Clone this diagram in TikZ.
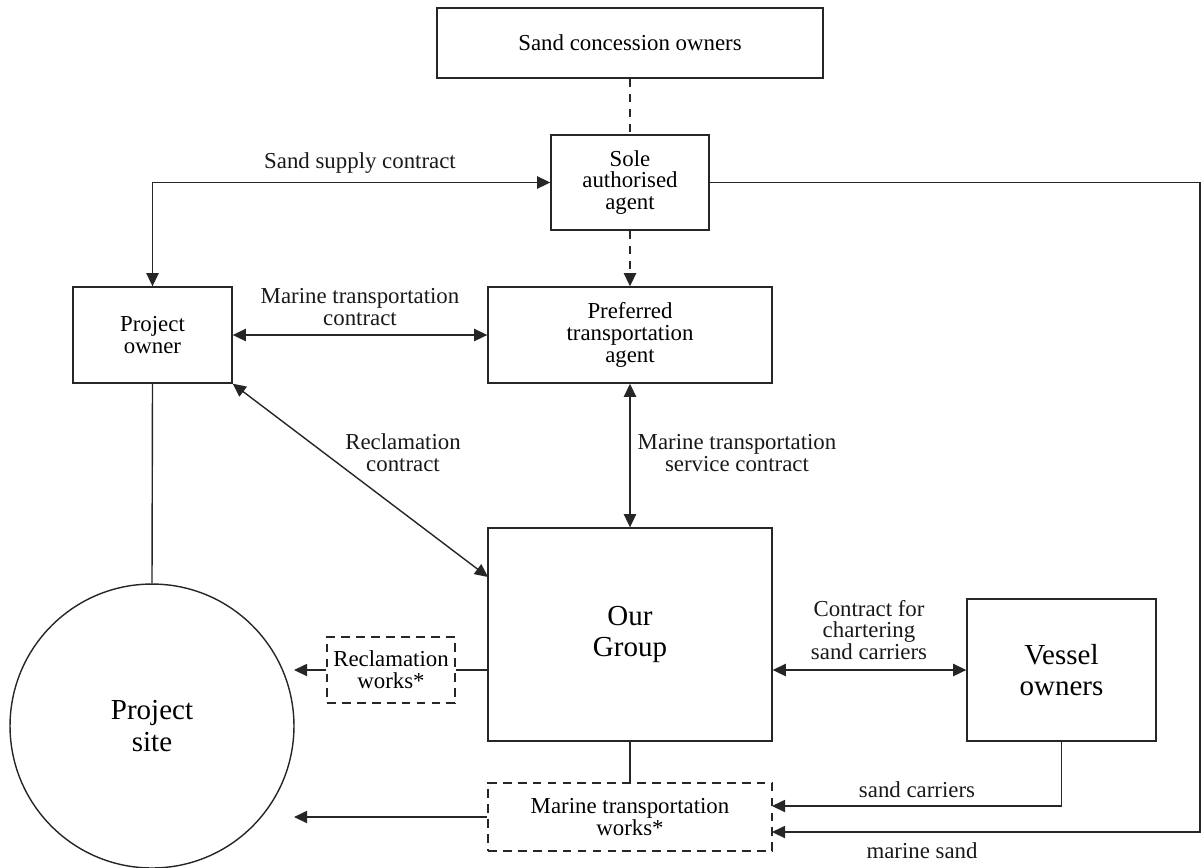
\documentclass[tikz,border=0pt]{standalone}
\usepackage{fontspec}
\setmainfont{Liberation Serif}
\usetikzlibrary{arrows.meta,positioning}
\newcommand\txtnormal{\fontsize{13}{12.4}\selectfont}
\newcommand\txtbig{\fontsize{16.5}{18}\selectfont}
\tikzset
{
  box/.style={draw=black!85,line width=0.8pt,inner sep=0pt,align=center,font=\txtnormal},
  dashbox/.style={box,dash pattern=on 5pt off 3.5pt},
  label/.style={inner sep=0pt,align=center,font=\txtnormal,text=black!90},
  link/.style={draw=black!85,line width=0.8pt},
  arrow/.style={link,-{Triangle[length=7.5pt,width=7pt]}},
  twoway/.style={link,{Triangle[length=7.5pt,width=7pt]}-{Triangle[length=7.5pt,width=7pt]}}
}
\begin{document}
\begin{tikzpicture}[x=0.02cm,y=-0.02cm]
        \useasboundingbox (0,0) rectangle (1203,867);

        % Boxes
        \node[box,minimum width=7.72cm,minimum height=1.4cm] (conc) at (630,43) {Sand concession owners};
        \node[box,minimum width=3.16cm,minimum height=1.9cm] (sole) at (630,182.5) {Sole\\authorised\\agent};
        \node[box,minimum width=3.18cm,minimum height=1.92cm] (owner) at (152.5,335) {Project\\owner};
        \node[box,minimum width=5.68cm,minimum height=1.92cm] (pref) at (630,335) {Preferred\\transportation\\agent};
        \node[box,minimum width=5.68cm,minimum height=4.26cm,font=\txtbig] (group) at (630,634.5) {Our\\Group};
        \node[box,minimum width=3.78cm,minimum height=2.84cm,font=\txtbig] (vessel) at (1061.5,670) {Vessel\\owners};
        \node[dashbox,minimum width=2.56cm,minimum height=1.32cm] (recl) at (391,670) {Reclamation\\works*};
        \node[dashbox,minimum width=5.68cm,minimum height=1.36cm] (mtw) at (630,817) {Marine transportation\\works*};
        \node[box,circle,minimum size=5.68cm,font=\txtbig] (site) at (152,726) {Project\\site};

        % Free ends
        \coordinate (reclin) at (294,670);
        \coordinate (mtwin) at (294,817);
        \coordinate (grpin) at (488,577);
        \coordinate (carrin) at (772,806);
        \coordinate (rim) at (1200,832);
        \coordinate (sandin) at (772,832);

        % Connectors
        \draw[link,dash pattern=on 5pt off 3.5pt] (conc.south) -- (sole.north);
        \draw[arrow,dash pattern=on 5pt off 3.5pt] (sole.south) -- (pref.north);
        \draw[twoway] (owner.north) |- (sole.west);
        \draw[twoway] (owner.east) -- (pref.west);
        \draw[twoway] (owner.south east) -- (grpin);
        \draw[twoway] (pref.south) -- (group.north);
        \draw[twoway] (group.east |- vessel.west) -- (vessel.west);
        \draw[link] (owner.south) -- (site.north);
        \draw[link] (group.west |- recl.east) -- (recl.east);
        \draw[arrow] (recl.west) -- (reclin);
        \draw[link] (group.south) -- (mtw.north);
        \draw[arrow] (mtw.west) -- (mtwin);
        \draw[arrow] (vessel.south) |- (carrin);
        \draw[arrow] (sole.east) -| (rim) -- (sandin);

        % Labels
        \node[label] (lsupply) at (360,163) {Sand supply contract};
        \node[label] (lmtc) at (360,307) {Marine transportation\\contract};
        \node[label] (lrecl) at (403,453) {Reclamation\\contract};
        \node[label] (lmtsc) at (737,453) {Marine transportation\\service contract};
        \node[label] (lcharter) at (869,630) {Contract for\\chartering\\sand carriers};
        \node[label] (lcarr) at (917,790) {sand carriers};
        \node[label] (lsand) at (922,851) {marine sand};
\end{tikzpicture}
\end{document}
